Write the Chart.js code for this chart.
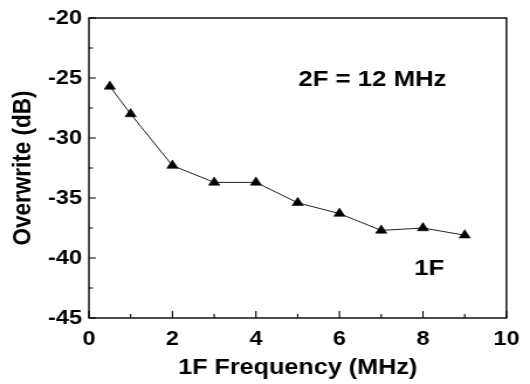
<!DOCTYPE html>
<html>
<head>
<meta charset="utf-8">
<script src="https://cdn.jsdelivr.net/npm/chart.js@4.4.1/dist/chart.umd.min.js"></script>
<style>
  html, body { margin: 0; padding: 0; background: #fff; overflow: hidden; }
  #c { display: block; }
</style>
</head>
<body>
<!-- drawn at 453 px wide and shown 530 px wide: the reference is stretched horizontally -->
<canvas id="c" width="453" height="384" style="width:530px;height:384px;"></canvas>
<script>
const freqMHz = [0.5, 1, 2, 3, 4, 5, 6, 7, 8, 9];
const overwriteDB = [-25.7, -28.0, -32.3, -33.7, -33.7, -35.4, -36.3, -37.7, -37.5, -38.1];
const xTicks = [0, 2, 4, 6, 8, 10];
const yTicks = [-45, -40, -35, -30, -25, -20];
const xMinorTicks = [1, 3, 5, 7, 9];
const yMinorTicks = [-42.5, -37.5, -32.5, -27.5, -22.5];
const annotationTexts = ['2F = 12 MHz', '1F'];
const annotationX = [6.79, 8.15];
const annotationY = [-25.2, -40.9];

const FONT = '"Liberation Sans", Arial, sans-serif';

const framePlugin = {
  id: 'frame',
  afterDraw(chart) {
    const ctx = chart.ctx;
    const a = chart.chartArea;
    const xs = chart.scales.x, ys = chart.scales.y;
    ctx.save();
    ctx.strokeStyle = '#000';
    ctx.lineWidth = 1.4;
    ctx.strokeRect(a.left, a.top, a.right - a.left, a.bottom - a.top);
    ctx.lineWidth = 1.1;
    ctx.beginPath();
    xTicks.forEach(v => { const p = xs.getPixelForValue(v); ctx.moveTo(p, a.bottom); ctx.lineTo(p, a.bottom - 7); });
    xMinorTicks.forEach(v => { const p = xs.getPixelForValue(v); ctx.moveTo(p, a.bottom); ctx.lineTo(p, a.bottom - 4); });
    yTicks.forEach(v => { const p = ys.getPixelForValue(v); ctx.moveTo(a.left, p); ctx.lineTo(a.left + 6, p); });
    yMinorTicks.forEach(v => { const p = ys.getPixelForValue(v); ctx.moveTo(a.left, p); ctx.lineTo(a.left + 3.5, p); });
    ctx.stroke();
    ctx.fillStyle = '#000';
    ctx.font = 'bold 22px ' + FONT;
    ctx.textAlign = 'center';
    ctx.textBaseline = 'middle';
    annotationTexts.forEach((t, i) => {
      ctx.fillText(t, xs.getPixelForValue(annotationX[i]), ys.getPixelForValue(annotationY[i]));
    });
    ctx.restore();
  }
};

new Chart(document.getElementById('c'), {
  type: 'scatter',
  data: {
    datasets: [{
      data: freqMHz.map((x, i) => ({ x: x, y: overwriteDB[i] })),
      showLine: true,
      borderColor: '#222',
      borderWidth: 1,
      backgroundColor: '#000',
      pointStyle: 'triangle',
      pointRadius: 5.5,
      pointBorderWidth: 0.6,
      pointBorderColor: '#000',
      pointBackgroundColor: '#000',
      tension: 0
    }]
  },
  options: {
    responsive: false,
    animation: false,
    devicePixelRatio: 1,
    events: [],
    layout: { padding: { top: 15, right: 13, left: 0, bottom: 0 } },
    plugins: { legend: { display: false }, tooltip: { enabled: false } },
    scales: {
      x: {
        type: 'linear', min: 0, max: 10,
        afterFit: s => { s.height = 66; },
        afterBuildTicks: s => { s.ticks = xTicks.map(v => ({ value: v })); },
        grid: { display: false, drawTicks: false },
        border: { display: false },
        ticks: { color: '#000', font: { family: FONT, size: 20, weight: 'bold' }, padding: 9, maxRotation: 0 },
        title: { display: true, text: '1F Frequency (MHz)', color: '#000', font: { family: FONT, size: 21.5, weight: 'bold' }, padding: { top: 0, bottom: 3 } }
      },
      y: {
        type: 'linear', min: -45, max: -20,
        afterFit: s => { s.width = 76; },
        afterBuildTicks: s => { s.ticks = yTicks.map(v => ({ value: v })); },
        grid: { display: false, drawTicks: false },
        border: { display: false },
        ticks: { color: '#000', font: { family: FONT, size: 20, weight: 'bold' }, padding: 6 },
        title: { display: true, text: 'Overwrite (dB)', color: '#000', font: { family: FONT, size: 22.5, weight: 'bold' }, padding: { top: 6, bottom: 0 } }
      }
    }
  },
  plugins: [framePlugin]
});
</script>
</body>
</html>
